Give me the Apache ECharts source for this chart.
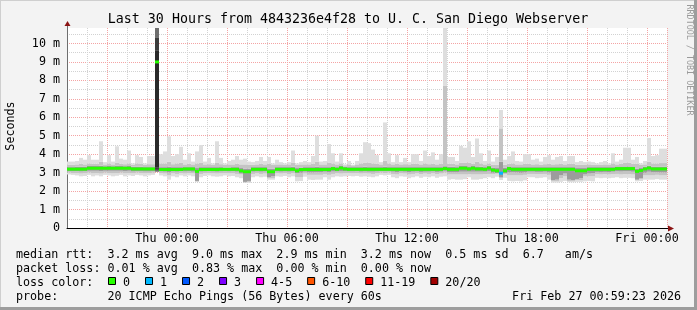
<!DOCTYPE html>
<html><head><meta charset="utf-8">
<script src="https://cdn.jsdelivr.net/npm/echarts@6/dist/echarts.min.js"></script>
<style>html,body{margin:0;padding:0;background:#f3f3f3}#c{width:697px;height:310px}</style>
</head><body><div id="c"></div>
<script>
// 150 bins of 12 minutes, Wed 19:00 -> Fri 01:00 (values in ms)
const hi = [
3.6,3.6,3.63,3.8,3.7,3.95,3.7,3.7,4.7,3.57,
3.95,3.6,4.43,3.76,3.7,4.2,3.5,3.95,3.85,3.5,
3.9,3.9,10.9,4.0,4.15,4.97,3.9,4.0,4.4,3.7,
4.05,3.6,4.15,4.5,3.6,3.8,3.5,4.7,3.8,3.5,
3.63,3.7,3.9,3.7,3.76,3.6,3.57,3.63,3.85,3.63,
3.85,3.5,3.7,3.57,3.5,3.57,4.2,3.5,3.57,3.63,
3.57,3.9,5.0,3.6,3.63,4.55,4.05,3.6,4.05,3.45,
3.63,3.43,3.63,4.05,4.65,4.6,4.25,3.95,3.57,5.72,
4.05,3.57,3.95,3.57,3.8,3.57,4.0,4.0,3.63,4.2,
3.9,4.1,3.7,4.0,10.9,3.85,3.85,3.63,4.45,4.35,
4.7,3.85,4.85,4.05,3.63,4.2,3.6,3.85,6.4,3.7,
3.9,4.15,3.63,3.6,4.0,4.0,3.7,3.76,3.6,3.85,
3.95,3.7,3.85,3.9,3.63,3.9,3.9,3.57,3.63,3.57,
3.6,3.57,3.5,3.57,3.63,3.5,4.05,3.6,3.7,4.35,
4.35,3.7,3.85,3.5,3.63,4.88,3.9,3.95,4.3,4.3];
const mhi = [
3.42,3.42,3.45,3.48,3.45,3.5,3.48,3.48,3.6,3.45,
3.5,3.45,3.55,3.48,3.46,3.5,3.42,3.5,3.48,3.42,
3.46,3.46,10.3,3.5,3.5,3.6,3.46,3.5,3.55,3.45,
3.48,3.45,3.5,3.55,3.45,3.46,3.42,3.55,3.46,3.42,
3.45,3.45,3.48,3.45,3.45,3.42,3.42,3.45,3.48,3.45,
3.48,3.42,3.45,3.45,3.42,3.45,3.55,3.42,3.45,3.45,
3.45,3.48,3.6,3.45,3.45,3.55,3.5,3.45,3.5,3.4,
3.45,3.4,3.45,3.5,3.55,3.55,3.5,3.48,3.45,3.65,
3.5,3.45,3.48,3.45,3.46,3.45,3.48,3.48,3.45,3.5,
3.46,3.48,3.45,3.48,7.7,3.48,3.48,3.45,3.55,3.55,
3.55,3.48,3.6,3.5,3.45,3.5,3.42,3.42,5.4,3.42,
3.48,3.5,3.45,3.45,3.48,3.48,3.45,3.46,3.42,3.46,
3.48,3.45,3.46,3.48,3.45,3.48,3.48,3.42,3.42,3.42,
3.45,3.42,3.42,3.42,3.45,3.42,3.5,3.45,3.48,3.55,
3.55,3.48,3.48,3.42,3.45,3.6,3.5,3.5,3.52,3.52];
const dhi = [
3.3,3.3,3.32,3.32,3.33,3.36,3.36,3.36,3.38,3.35,
3.36,3.35,3.37,3.36,3.35,3.36,3.32,3.33,3.32,3.3,
3.3,3.3,9.6,3.3,3.3,3.32,3.3,3.3,3.3,3.3,
3.3,3.3,3.25,3.3,3.3,3.3,3.3,3.3,3.3,3.28,
3.28,3.3,3.3,3.25,3.22,3.22,3.3,3.3,3.3,3.3,
3.22,3.22,3.3,3.3,3.3,3.3,3.32,3.25,3.28,3.3,
3.3,3.3,3.32,3.3,3.3,3.3,3.34,3.3,3.36,3.33,
3.3,3.3,3.3,3.3,3.32,3.3,3.3,3.3,3.3,3.32,
3.3,3.3,3.3,3.3,3.3,3.3,3.3,3.3,3.3,3.3,
3.3,3.3,3.3,3.3,3.35,3.32,3.32,3.3,3.36,3.36,
3.34,3.36,3.34,3.32,3.3,3.38,3.28,3.25,3.6,3.26,
3.34,3.3,3.3,3.3,3.3,3.3,3.3,3.3,3.3,3.3,
3.3,3.3,3.3,3.3,3.3,3.3,3.3,3.25,3.25,3.25,
3.3,3.3,3.3,3.3,3.3,3.3,3.3,3.34,3.34,3.34,
3.34,3.34,3.22,3.25,3.32,3.38,3.33,3.33,3.33,3.33];
const med = [
3.19,3.19,3.19,3.19,3.19,3.24,3.24,3.24,3.24,3.24,
3.24,3.24,3.24,3.24,3.24,3.24,3.2,3.2,3.2,3.2,
3.2,3.2,9.0,3.17,3.17,3.17,3.17,3.17,3.17,3.2,
3.2,3.2,3.07,3.17,3.17,3.17,3.17,3.17,3.18,3.18,
3.18,3.18,3.18,3.1,3.05,3.05,3.18,3.18,3.18,3.18,
3.05,3.05,3.18,3.18,3.18,3.18,3.18,3.1,3.17,3.17,
3.17,3.17,3.17,3.17,3.17,3.17,3.22,3.18,3.25,3.2,
3.18,3.18,3.18,3.18,3.18,3.18,3.18,3.18,3.18,3.18,
3.18,3.18,3.18,3.18,3.18,3.18,3.18,3.18,3.18,3.18,
3.18,3.18,3.18,3.18,3.22,3.18,3.18,3.18,3.24,3.24,
3.2,3.24,3.2,3.2,3.18,3.25,3.14,3.1,2.97,3.1,
3.22,3.18,3.18,3.18,3.18,3.18,3.18,3.18,3.18,3.18,
3.18,3.18,3.18,3.18,3.18,3.18,3.18,3.1,3.1,3.1,
3.18,3.18,3.18,3.18,3.18,3.18,3.18,3.22,3.22,3.22,
3.22,3.22,3.07,3.12,3.2,3.25,3.2,3.2,3.2,3.2];
const dlo = [
3.08,3.07,3.08,3.06,3.07,3.1,3.1,3.1,3.08,3.1,
3.1,3.1,3.1,3.1,3.08,3.1,3.06,3.08,3.07,3.06,
3.06,3.08,3.3,3.06,3.05,3.02,3.06,3.05,3.07,3.06,
3.07,3.05,2.55,3.05,3.06,3.07,3.06,3.05,3.06,3.07,
3.06,3.07,3.05,2.95,2.5,2.55,3.05,3.06,3.05,3.06,
2.75,2.8,3.06,3.05,3.06,3.05,3.06,2.97,3.0,3.05,
3.02,3.02,3.03,3.03,3.05,3.03,3.06,3.06,3.07,3.07,
3.06,3.06,3.07,3.05,3.06,3.05,3.05,3.06,3.08,3.07,
3.08,3.05,3.03,3.06,3.05,3.03,3.05,3.06,3.04,3.05,
3.05,3.06,3.04,3.05,3.1,3.03,3.03,3.03,3.05,3.05,
3.05,3.05,3.05,3.05,3.05,3.07,3.0,2.97,2.75,2.98,
3.02,3.03,3.02,3.0,3.02,3.05,3.05,3.04,3.04,3.05,
3.02,2.6,2.62,2.85,2.95,2.62,2.6,2.65,2.7,2.9,
2.95,2.98,3.04,3.03,3.04,3.03,3.05,3.07,3.06,3.07,
3.07,3.05,2.62,2.7,3.0,3.05,3.03,3.03,3.02,3.02];
const mlo = [
3.0,2.98,2.98,2.95,2.97,3.0,2.96,2.98,2.95,3.0,
2.98,2.96,2.97,3.0,2.96,2.98,2.97,3.0,2.98,2.96,
2.98,3.0,3.15,2.98,2.95,2.85,2.96,2.93,2.98,2.95,
2.98,2.96,2.52,2.93,2.97,2.98,2.96,2.95,2.96,2.98,
2.96,2.97,2.93,2.9,2.47,2.5,2.93,2.96,2.93,2.95,
2.7,2.7,2.96,2.95,2.97,2.93,2.96,2.75,2.75,2.95,
2.88,2.88,2.88,2.88,2.93,2.88,2.93,2.96,2.95,2.96,
2.97,2.96,2.97,2.95,2.96,2.95,2.93,2.96,3.0,2.98,
3.0,2.93,2.9,2.96,2.95,2.9,2.93,2.96,2.92,2.95,
2.93,2.96,2.92,2.95,3.0,2.9,2.9,2.9,2.9,2.9,
2.92,2.9,2.9,2.9,2.92,2.93,2.92,2.95,2.7,2.92,
2.85,2.85,2.85,2.85,2.88,2.93,2.93,2.92,2.92,2.93,
2.88,2.55,2.55,2.7,2.8,2.55,2.55,2.6,2.6,2.8,
2.8,2.8,2.92,2.9,2.92,2.9,2.92,2.93,2.9,2.92,
2.92,2.9,2.6,2.65,2.85,2.85,2.85,2.88,2.85,2.85];
const lo = [
2.9,2.88,2.85,2.8,2.82,2.88,2.8,2.85,2.8,2.88,
2.85,2.8,2.83,2.88,2.8,2.85,2.82,2.88,2.85,2.8,
2.85,2.88,3.05,2.85,2.8,2.62,2.8,2.75,2.85,2.8,
2.85,2.8,2.5,2.75,2.82,2.85,2.8,2.78,2.8,2.85,
2.8,2.82,2.75,2.7,2.45,2.45,2.75,2.8,2.75,2.78,
2.62,2.62,2.8,2.78,2.82,2.75,2.8,2.53,2.55,2.78,
2.62,2.6,2.62,2.62,2.75,2.62,2.75,2.8,2.78,2.8,
2.82,2.8,2.82,2.78,2.8,2.78,2.75,2.8,2.88,2.85,
2.88,2.75,2.7,2.8,2.78,2.7,2.75,2.8,2.72,2.78,
2.75,2.8,2.72,2.78,2.8,2.62,2.65,2.62,2.62,2.65,
2.75,2.62,2.62,2.65,2.7,2.75,2.7,2.78,2.6,2.72,
2.55,2.53,2.55,2.53,2.58,2.75,2.75,2.7,2.72,2.75,
2.62,2.46,2.46,2.5,2.55,2.48,2.48,2.5,2.5,2.53,
2.55,2.53,2.72,2.7,2.72,2.7,2.72,2.75,2.7,2.72,
2.72,2.7,2.53,2.55,2.62,2.62,2.62,2.65,2.62,2.62];
// lost pings (of 20) per bin
const loss = [
0,0,0,0,0,0,0,0,0,0, 0,0,0,0,0,0,0,0,0,0, 0,0,0,0,0,0,0,0,0,0,
0,0,0,0,0,0,0,0,0,0, 0,0,0,0,0,0,0,0,0,0, 0,0,0,0,0,0,0,0,0,0,
0,0,0,0,0,0,0,0,0,0, 0,0,0,0,0,0,0,0,0,0, 0,0,0,0,0,0,0,0,0,0,
0,0,0,0,0,0,0,0,0,0, 0,0,0,0,0,0,0,0,1,0, 0,0,0,0,0,0,0,0,0,0,
0,0,0,0,0,0,0,0,0,0, 0,0,0,0,0,0,0,0,0,0, 0,0,0,0,0,0,0,0,0,0];

const timeTickHours = [5, 11, 17, 23, 29];
const timeTickLabels = ['Thu 00:00', 'Thu 06:00', 'Thu 12:00', 'Thu 18:00', 'Fri 00:00'];
const lossNames = ['0', '1', '2', '3', '4-5', '6-10', '11-19', '20/20'];
const lossMax = [0, 1, 2, 3, 5, 10, 19, 20];
const lossColors = ['#26ff00', '#00b8ff', '#0059ff', '#7e00ff', '#ff00ff', '#ff5500', '#ff0000', '#a10000'];
const titleText = 'Last 30 Hours from 4843236e4f28 to U. C. San Diego Webserver';
const statLines = [
  'median rtt:  3.2 ms avg  9.0 ms max  2.9 ms min  3.2 ms now  0.5 ms sd  6.7   am/s',
  'packet loss: 0.01 % avg  0.83 % max  0.00 % min  0.00 % now'
];
const probeText = 'probe:       20 ICMP Echo Pings (56 Bytes) every 60s';
const stampText = 'Fri Feb 27 00:59:23 2026';

const FONT = "'DejaVu Sans Mono', monospace";
const G = {left: 67, top: 28, width: 600, height: 200};
const yMax = 10.84;
const cats = hi.map((_, i) => String(i));

const COL = {light: '#dedede', mid: '#c4c4c4', dark: '#9c9c9c'};
const HEAVY = {light: '#6e6e6e', mid: '#3c3c3c', dark: '#2a2a2a'};

function band(kind, vals) {
  return {
    type: 'bar', stack: 'smoke', xAxisIndex: 0, yAxisIndex: 0,
    barCategoryGap: '0%', barGap: '-100%', silent: true, animation: false,
    itemStyle: {color: COL[kind]},
    data: vals.map((v, i) => med[i] > 8 ? {value: v, itemStyle: {color: HEAVY[kind]}} : v)
  };
}
const series = [
  {type: 'bar', stack: 'smoke', barCategoryGap: '0%', barGap: '-100%', silent: true, animation: false,
   itemStyle: {color: 'transparent'}, data: lo},
  band('light', lo.map((v, i) => mlo[i] - v)),
  band('mid', mlo.map((v, i) => dlo[i] - v)),
  band('dark', dlo.map((v, i) => dhi[i] - v)),
  band('mid', dhi.map((v, i) => mhi[i] - v)),
  band('light', mhi.map((v, i) => hi[i] - v)),
  {type: 'bar', stack: 'median', barCategoryGap: '0%', barGap: '-100%', silent: true, animation: false,
   itemStyle: {color: 'transparent'}, data: med.map(v => v - 0.08)},
  {type: 'bar', stack: 'median', barCategoryGap: '0%', barGap: '-100%', silent: true, animation: false,
   data: med.map((v, i) => ({value: 0.16,
     itemStyle: {color: lossColors[lossMax.findIndex(m => loss[i] <= m)]}}))}
];

const labelMap = {};
timeTickHours.forEach((h, i) => labelMap[h] = timeTickLabels[i]);

const graphics = [];
// frame
graphics.push({type: 'rect', shape: {x: 0, y: 0, width: 697, height: 1}, style: {fill: '#cfcfcf'}, z: 100});
graphics.push({type: 'rect', shape: {x: 0, y: 0, width: 1, height: 310}, style: {fill: '#cfcfcf'}, z: 100});
graphics.push({type: 'rect', shape: {x: 694, y: 0, width: 3, height: 310}, style: {fill: '#9d9d9d'}, z: 100});
graphics.push({type: 'rect', shape: {x: 0, y: 307, width: 697, height: 3}, style: {fill: '#9d9d9d'}, z: 100});
// axis extensions + arrows
graphics.push({type: 'line', shape: {x1: 67.5, y1: 28, x2: 67.5, y2: 22}, style: {stroke: '#6e6e6e', lineWidth: 1}, z: 50});
graphics.push({type: 'polygon', shape: {points: [[64.5, 26], [70.5, 26], [67.5, 21]]}, style: {fill: '#8b1414'}, z: 50});
graphics.push({type: 'line', shape: {x1: 667, y1: 228.5, x2: 672, y2: 228.5}, style: {stroke: '#000', lineWidth: 1}, z: 50});
graphics.push({type: 'polygon', shape: {points: [[668, 225.5], [668, 231.5], [674, 228.5]]}, style: {fill: '#8b1414'}, z: 50});
// texts
const txt = (text, x, y, size, opts) => Object.assign({
  type: 'text', x, y, z: 60,
  style: Object.assign({text, font: size + 'px ' + FONT, fill: '#000',
    align: 'left', verticalAlign: 'middle', textAlign: 'left', textVerticalAlign: 'middle'}, (opts || {}).style || {})
}, (opts || {}).el || {});
graphics.push(txt(titleText, 348, 19.5, 13.3, {style: {align: 'center', textAlign: 'center'}}));
graphics.push(txt('Seconds', 11, 126, 11.7, {style: {align: 'center', textAlign: 'center'}, el: {rotation: Math.PI / 2}}));
graphics.push(txt('RRDTOOL / TOBI OETIKER', 689, 60, 8.4, {style: {align: 'center', textAlign: 'center', fill: '#9a9a9a'}, el: {rotation: -Math.PI / 2}}));
graphics.push(txt(statLines[0], 16, 254.5, 11.7));
graphics.push(txt(statLines[1], 16, 268.5, 11.7));
graphics.push(txt('loss color:', 16, 282.5, 11.7));
graphics.push(txt(probeText, 16, 296.5, 11.7));
graphics.push(txt(stampText, 681, 296.5, 11.7, {style: {align: 'right', textAlign: 'right'}}));
let lx = 108;
const CW = 7.02;
lossNames.forEach((n, i) => {
  graphics.push({type: 'rect', z: 60, shape: {x: lx + 0.5, y: 277.5, width: 7, height: 7},
    style: {fill: lossColors[i], stroke: '#000', lineWidth: 1}});
  graphics.push(txt(n, lx + 15, 282.5, 11.7));
  lx += 15 + n.length * CW + 15;
});

const chart = echarts.init(document.getElementById('c'), null, {renderer: 'canvas', width: 697, height: 310});
chart.setOption({
  backgroundColor: '#f3f3f3',
  animation: false,
  grid: Object.assign({show: true, backgroundColor: '#ffffff', borderWidth: 0}, G),
  xAxis: [
    {type: 'category', data: cats, boundaryGap: true, axisLine: {show: false}, axisTick: {show: false}, axisLabel: {show: false},
     splitLine: {show: true, interval: (i) => i % 5 === 0 && i % 15 !== 10 && i !== 0,
       lineStyle: {color: '#d2d2d2', type: [1, 1], width: 1}}},
    {type: 'category', data: cats, boundaryGap: true, axisLine: {show: false}, axisTick: {show: false}, axisLabel: {show: false},
     splitLine: {show: true, interval: (i) => i % 15 === 10,
       lineStyle: {color: '#f4a4a4', type: [1, 1], width: 1}}},
    {type: 'value', min: 0, max: 30, interval: 1, position: 'bottom',
     axisLine: {show: true, onZero: false, lineStyle: {color: '#000', width: 1}},
     axisTick: {show: false}, splitLine: {show: false},
     axisLabel: {formatter: v => labelMap[v] || '', fontFamily: FONT, fontSize: 11.7, color: '#000', margin: 5,
       showMinLabel: false, showMaxLabel: false}}
  ],
  yAxis: [
    {type: 'value', min: 0, max: yMax, interval: 1,
     axisLine: {show: true, onZero: false, lineStyle: {color: '#6e6e6e', width: 1}},
     axisTick: {show: false},
     axisLabel: {formatter: v => v === 0 ? '0' : v + ' m', fontFamily: FONT, fontSize: 11.7, color: '#000', margin: 7,
       showMaxLabel: false},
     splitLine: {show: true, showMaxLine: false, lineStyle: {color: '#f4a4a4', type: [1, 1], width: 1}}},
    {type: 'value', min: 0, max: yMax * 2, interval: 1, position: 'left', show: true,
     axisLine: {show: false}, axisTick: {show: false}, axisLabel: {show: false},
     splitLine: {show: true, showMinLine: true, showMaxLine: false,
       lineStyle: {color: ['transparent', '#d2d2d2'], type: [1, 1], width: 1}}}
  ],
  series: series,
  graphic: graphics
});
</script></body></html>
